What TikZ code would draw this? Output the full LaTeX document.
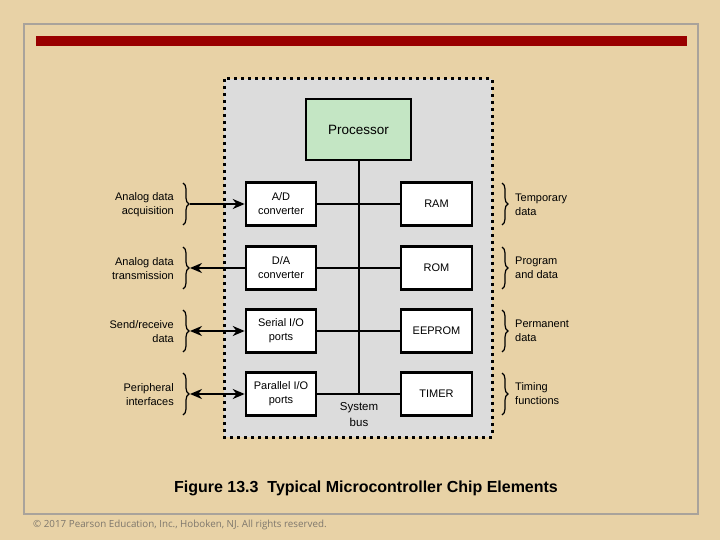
\documentclass[tikz,border=0pt]{standalone}
\usepackage{fontspec}
\setmainfont{Liberation Sans}
\newfontfamily\notefont{Open Sans}
\usetikzlibrary{positioning, arrows.meta, decorations.pathreplacing}
\definecolor{cPaper}{HTML}{E8D2A6}
\definecolor{cFrame}{HTML}{A9A39B}
\definecolor{cRule}{HTML}{990000}
\definecolor{cChip}{HTML}{DCDCDC}
\definecolor{cProc}{HTML}{C4E6C4}
\definecolor{cNote}{HTML}{7E776C}
\tikzset{
  blk/.style={draw, line width=2.6pt, fill=white, font=\fontsize{11}{14}\selectfont, align=center, minimum width=70pt, minimum height=43pt, inner sep=0pt},
  bus/.style={line width=2pt},
  sig/.style={line width=2.2pt, >={Stealth[length=12pt,width=10pt]}},
  brc/.style={decorate, decoration={brace, amplitude=6pt}, line width=1.2pt},
  lab/.style={font=\fontsize{11}{14}\selectfont, inner sep=0pt},
}

\begin{document}
\begin{tikzpicture}[x=1pt, y=-1pt]
  \useasboundingbox (0,0) rectangle (720,540);
  \fill[cPaper] (0,0) rectangle (720,540);
  \draw[cFrame, line width=2pt] (24,24) rectangle (698,514);
  \fill[cRule] (36,36) rectangle (687,46);
  \draw[line width=3pt, dash pattern=on 3pt off 4pt, fill=cChip] (224,79) rectangle (492,437);

  \node[blk, fill=cProc, minimum width=105pt, minimum height=61pt, font=\fontsize{13.5}{16}\selectfont] (proc) at (358.5,129.5) {Processor};

  \node[blk] (ad) at (281,204) {A/D\\converter};
  \node[blk] (da) at (281,268) {D/A\\converter};
  \node[blk] (sio) at (281,331) {Serial I/O\\ports};
  \node[blk] (pio) at (281,394) {Parallel I/O\\ports};

  \node[blk, minimum width=71pt] (ram) at (436.5,204) {RAM};
  \node[blk, minimum width=71pt] (rom) at (436.5,268) {ROM};
  \node[blk, minimum width=71pt] (eep) at (436.5,331) {EEPROM};
  \node[blk, minimum width=71pt] (tmr) at (436.5,394) {TIMER};

  \draw[bus] (proc.south) -- (proc.south |- tmr.west);
  \draw[bus] (ad.east) -- (ad.east -| proc.south);
  \draw[bus] (da.east) -- (da.east -| proc.south);
  \draw[bus] (sio.east) -- (sio.east -| proc.south);
  \draw[bus] (pio.east) -- (pio.east -| proc.south);
  \draw[bus] (ram.west) -- (ram.west -| proc.south);
  \draw[bus] (rom.west) -- (rom.west -| proc.south);
  \draw[bus] (eep.west) -- (eep.west -| proc.south);
  \draw[bus] (tmr.west) -- (tmr.west -| proc.south);
  \node[lab, align=center, font=\fontsize{11.5}{16}\selectfont] (sysbus) at (359,414.5) {System\\bus};

  \coordinate (lb1) at (190,204);
  \coordinate (lb2) at (190,268);
  \coordinate (lb3) at (190,331);
  \coordinate (lb4) at (190,394);
  \draw[sig, ->] (lb1) -- (ad.west);
  \draw[sig, <-] (lb2) -- (da.west);
  \draw[sig, <->] (lb3) -- (sio.west);
  \draw[sig, <->] (lb4) -- (pio.west);

  \draw[brc] (183,183) -- (183,225);
  \draw[brc] (183,247) -- (183,289);
  \draw[brc] (183,310) -- (183,352);
  \draw[brc] (183,373) -- (183,415);
  \draw[brc] (502,183) -- (502,225);
  \draw[brc] (502,247) -- (502,289);
  \draw[brc] (502,310) -- (502,352);
  \draw[brc] (502,373) -- (502,415);

  \node[lab, anchor=east, align=right] (t1) at (174,205) {Analog data\\acquisition};
  \node[lab, anchor=east, align=right] (t2) at (174,269) {Analog data\\transmission};
  \node[lab, anchor=east, align=right] (t3) at (174,332) {Send/receive\\data};
  \node[lab, anchor=east, align=right] (t4) at (174,395) {Peripheral\\interfaces};
  \node[lab, anchor=west, align=left] (u1) at (515,205) {Temporary\\data};
  \node[lab, anchor=west, align=left] (u2) at (515,268) {Program\\and data};
  \node[lab, anchor=west, align=left] (u3) at (515,331) {Permanent\\data};
  \node[lab, anchor=west, align=left] (u4) at (515,394) {Timing\\functions};

  \node[font=\fontsize{16}{18}\selectfont\bfseries] (cap) at (366,488) {Figure 13.3\ \ Typical Microcontroller Chip Elements};
  \node[anchor=west, text=cNote, font=\notefont\fontsize{9.8}{12}\selectfont, inner sep=0pt] (note) at (33,525) {© 2017 Pearson Education, Inc., Hoboken, NJ. All rights reserved.};
\end{tikzpicture}
\end{document}
